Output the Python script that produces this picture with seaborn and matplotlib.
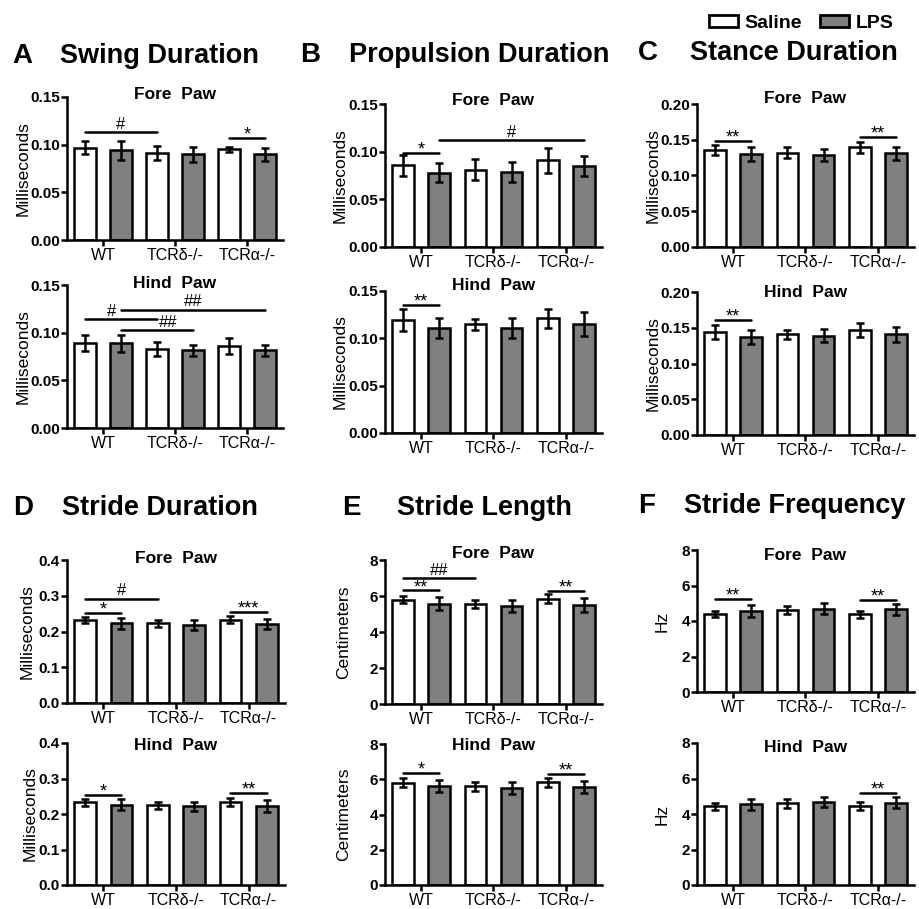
import numpy as np
import pandas as pd
import matplotlib
matplotlib.use("Agg")
import matplotlib.pyplot as plt
from matplotlib.patches import Patch
import seaborn as sns

genotypes = ['WT', 'TCRδ-/-', 'TCRα-/-']
treatments = ['Saline', 'LPS']

# mean and SEM per bar, order: WT Sal, WT LPS, TCRd Sal, TCRd LPS, TCRa Sal, TCRa LPS
swing_fore = [0.097, 0.094, 0.091, 0.090, 0.095, 0.090]
swing_fore_err = [0.007, 0.010, 0.0075, 0.008, 0.003, 0.007]
swing_hind = [0.089, 0.089, 0.083, 0.0815, 0.0865, 0.0815]
swing_hind_err = [0.0087, 0.0089, 0.0073, 0.0056, 0.0084, 0.0056]

prop_fore = [0.0855, 0.078, 0.081, 0.0785, 0.091, 0.085]
prop_fore_err = [0.011, 0.010, 0.011, 0.0107, 0.013, 0.0107]
prop_hind = [0.1195, 0.111, 0.115, 0.111, 0.121, 0.115]
prop_hind_err = [0.0113, 0.0107, 0.0058, 0.0104, 0.0099, 0.013]

stance_fore = [0.1355, 0.130, 0.132, 0.129, 0.1395, 0.131]
stance_fore_err = [0.0075, 0.0098, 0.0075, 0.0086, 0.0079, 0.0093]
stance_hind = [0.1445, 0.137, 0.141, 0.139, 0.1465, 0.141]
stance_hind_err = [0.0098, 0.010, 0.0065, 0.0096, 0.010, 0.0103]

sdur_fore = [0.231, 0.2225, 0.2225, 0.2185, 0.2335, 0.2205]
sdur_fore_err = [0.0084, 0.0153, 0.0098, 0.013, 0.0093, 0.0144]
sdur_hind = [0.2335, 0.226, 0.225, 0.2215, 0.2335, 0.2225]
sdur_hind_err = [0.0098, 0.0149, 0.0102, 0.013, 0.0116, 0.0158]

slen_fore = [5.79, 5.58, 5.56, 5.45, 5.86, 5.51]
slen_fore_err = [0.186, 0.38, 0.223, 0.335, 0.242, 0.372]
slen_hind = [5.80, 5.62, 5.60, 5.49, 5.82, 5.56]
slen_hind_err = [0.26, 0.33, 0.25, 0.33, 0.27, 0.36]

sfreq_fore = [4.41, 4.58, 4.62, 4.69, 4.37, 4.65]
sfreq_fore_err = [0.16, 0.34, 0.21, 0.31, 0.18, 0.33]
sfreq_hind = [4.43, 4.54, 4.60, 4.69, 4.45, 4.62]
sfreq_hind_err = [0.20, 0.30, 0.26, 0.28, 0.21, 0.31]

# significance bars: (from bar, to bar, height, label[, label position in bar units])
swing_fore_sig = [(0, 2, 0.113, '#'), (4, 5, 0.107, '*')]
swing_hind_sig = [(0, 2, 0.114, '#', 0.75), (1, 5, 0.1237, '##'), (1, 3, 0.1024, '##', 2.3)]
prop_fore_sig = [(0, 1, 0.099, '*'), (1, 5, 0.112, '#')]
prop_hind_sig = [(0, 1, 0.135, '**')]
stance_fore_sig = [(0, 1, 0.1486, '**'), (4, 5, 0.1537, '**')]
stance_hind_sig = [(0, 1, 0.1607, '**')]
sdur_fore_sig = [(0, 2, 0.292, '#'), (0, 1, 0.253, '*'), (4, 5, 0.254, '***')]
sdur_hind_sig = [(0, 1, 0.253, '*'), (4, 5, 0.2595, '**')]
slen_fore_sig = [(0, 2, 6.98, '##'), (0, 1, 6.31, '**'), (4, 5, 6.29, '**')]
slen_hind_sig = [(0, 1, 6.38, '*'), (4, 5, 6.31, '**')]
sfreq_fore_sig = [(0, 1, 5.23, '**'), (4, 5, 5.21, '**')]
sfreq_hind_sig = [(4, 5, 5.20, '**')]

ms_ticks = [0, 0.05, 0.10, 0.15]
stance_ticks = [0, 0.05, 0.10, 0.15, 0.20]
sdur_ticks = [0, 0.1, 0.2, 0.3, 0.4]
int_ticks = [0, 2, 4, 6, 8]

sns.set_style('ticks')
plt.rcParams['font.family'] = ['Liberation Sans', 'DejaVu Sans']
# plain black text and axes, like the original figure
for key in ['text.color', 'axes.labelcolor', 'xtick.color', 'ytick.color', 'axes.edgecolor']:
    plt.rcParams[key] = 'black'

W, H = 920, 909
fig = plt.figure(figsize=(W / 100, H / 100), dpi=100)

def px_axes(left, top, right, bottom):
    return fig.add_axes([left / W, 1 - bottom / H, (right - left) / W, (bottom - top) / H])

# each subplot: axes box in pixels, subtitle baseline, ylabel distance, data
panels = [
    dict(box=(67, 97, 283, 240), sub='Fore  Paw', sub_y=99, lab_d=44, mean=swing_fore, err=swing_fore_err, sig=swing_fore_sig, ticks=ms_ticks, fmt='{:.2f}', ylabel='Milliseconds'),
    dict(box=(67, 285, 283, 428), sub='Hind  Paw', sub_y=288, lab_d=44, mean=swing_hind, err=swing_hind_err, sig=swing_hind_sig, ticks=ms_ticks, fmt='{:.2f}', ylabel='Milliseconds'),
    dict(box=(385, 104, 602, 247), sub='Fore  Paw', sub_y=105, lab_d=45, mean=prop_fore, err=prop_fore_err, sig=prop_fore_sig, ticks=ms_ticks, fmt='{:.2f}', ylabel='Milliseconds'),
    dict(box=(385, 291, 602, 433), sub='Hind  Paw', sub_y=290, lab_d=45, mean=prop_hind, err=prop_hind_err, sig=prop_hind_sig, ticks=ms_ticks, fmt='{:.2f}', ylabel='Milliseconds'),
    dict(box=(697, 104, 914, 247), sub='Fore  Paw', sub_y=103, lab_d=44, mean=stance_fore, err=stance_fore_err, sig=stance_fore_sig, ticks=stance_ticks, fmt='{:.2f}', ylabel='Milliseconds'),
    dict(box=(697, 292, 914, 435), sub='Hind  Paw', sub_y=297, lab_d=44, mean=stance_hind, err=stance_hind_err, sig=stance_hind_sig, ticks=stance_ticks, fmt='{:.2f}', ylabel='Milliseconds'),
    dict(box=(67, 560, 285, 703), sub='Fore  Paw', sub_y=563, lab_d=40, mean=sdur_fore, err=sdur_fore_err, sig=sdur_fore_sig, ticks=sdur_ticks, fmt='{:.1f}', ylabel='Milliseconds'),
    dict(box=(67, 743, 285, 885), sub='Hind  Paw', sub_y=750, lab_d=37, mean=sdur_hind, err=sdur_hind_err, sig=sdur_hind_sig, ticks=sdur_ticks, fmt='{:.1f}', ylabel='Milliseconds'),
    dict(box=(385, 560, 602, 704), sub='Fore  Paw', sub_y=558, lab_d=42, mean=slen_fore, err=slen_fore_err, sig=slen_fore_sig, ticks=int_ticks, fmt='{:.0f}', ylabel='Centimeters'),
    dict(box=(385, 744, 602, 885), sub='Hind  Paw', sub_y=750, lab_d=42, mean=slen_hind, err=slen_hind_err, sig=slen_hind_sig, ticks=int_ticks, fmt='{:.0f}', ylabel='Centimeters'),
    dict(box=(697, 550, 914, 692), sub='Fore  Paw', sub_y=560, lab_d=35, mean=sfreq_fore, err=sfreq_fore_err, sig=sfreq_fore_sig, ticks=int_ticks, fmt='{:.0f}', ylabel='Hz'),
    dict(box=(697, 743, 914, 885), sub='Hind  Paw', sub_y=752, lab_d=35, mean=sfreq_hind, err=sfreq_hind_err, sig=sfreq_hind_sig, ticks=int_ticks, fmt='{:.0f}', ylabel='Hz'),
]

colors = {'Saline': 'white', 'LPS': '#808080'}
lw = 1.8

for p in panels:
    left, top, right, bottom = p['box']
    ax = px_axes(left, top, right, bottom)
    df = pd.DataFrame({'Genotype': np.repeat(genotypes, 2),
                       'Treatment': treatments * 3,
                       'Value': p['mean']})
    sns.barplot(data=df, x='Genotype', y='Value', hue='Treatment', order=genotypes,
                hue_order=treatments, palette=colors, saturation=1, edgecolor='black',
                linewidth=lw, width=1.0, gap=0.4, errorbar=None, legend=False, ax=ax)

    # bar centres in drawing order
    bars = sorted(ax.patches, key=lambda b: b.get_x())
    xs = [b.get_x() + b.get_width() / 2 for b in bars]
    ax.errorbar(xs, p['mean'], yerr=p['err'], fmt='none', ecolor='black',
                elinewidth=lw, capsize=3, capthick=lw, zorder=5)

    for s in p['sig']:
        i, j, y, label = s[:4]
        if len(s) > 4:
            tx = np.interp(s[4], range(len(xs)), xs)
        else:
            tx = (xs[i] + xs[j]) / 2
        ax.plot([xs[i], xs[j]], [y, y], color='black', lw=lw, clip_on=False)
        if '*' in label:
            # asterisks sit high in the font, pull them down a little
            ax.annotate(label, (tx, y), xytext=(0, -1.2), textcoords='offset points',
                        ha='center', va='baseline', fontsize=13)
        else:
            ax.annotate(label, (tx, y), xytext=(0, 0.5), textcoords='offset points',
                        ha='center', va='bottom', fontsize=12)

    ax.set_xlim(-0.5, 2.5)
    ax.set_ylim(0, p['ticks'][-1])
    ax.set_yticks(p['ticks'])
    ax.set_yticklabels([p['fmt'].format(t) for t in p['ticks']], fontweight='bold')
    ax.tick_params(axis='y', length=4, width=lw, labelsize=11, pad=1)
    ax.tick_params(axis='x', length=4, width=lw, labelsize=11.5, pad=2)
    ax.set_xlabel('')
    ax.set_ylabel(p['ylabel'], fontsize=12.5)
    ax.yaxis.set_label_coords(-(p['lab_d'] - 8) / (right - left), 0.5)
    sns.despine(ax=ax)
    for sp in ['left', 'bottom']:
        ax.spines[sp].set_linewidth(lw)

    fig.text((left + right) / 2 / W, 1 - p['sub_y'] / H, p['sub'], ha='center',
             va='baseline', fontsize=12.5, fontweight='bold')

# panel letters and titles
letters = ['A', 'B', 'C', 'D', 'E', 'F']
titles = ['Swing Duration', 'Propulsion Duration', 'Stance Duration',
          'Stride Duration', 'Stride Length', 'Stride Frequency']
letter_x = [12, 300, 638, 13, 342, 638]
title_x = [60, 349, 690, 62, 397, 684]
title_y = [63, 62, 60, 515, 515, 513]
for k in range(6):
    fig.text(letter_x[k] / W, 1 - title_y[k] / H, letters[k], fontsize=20,
             fontweight='bold', va='baseline')
    fig.text(title_x[k] / W, 1 - title_y[k] / H, titles[k], fontsize=19.5,
             fontweight='bold', va='baseline')

handles = [Patch(facecolor=colors[t], edgecolor='black', linewidth=2, label=t) for t in treatments]
fig.legend(handles=handles, loc='upper left', bbox_to_anchor=(699 / W, 1 - 5 / H), ncol=2,
           frameon=False, borderpad=0, prop={'weight': 'bold', 'size': 14},
           handlelength=1.5, handleheight=0.62, handletextpad=0.35, columnspacing=0.9)

fig.savefig('out.png', dpi=100)
